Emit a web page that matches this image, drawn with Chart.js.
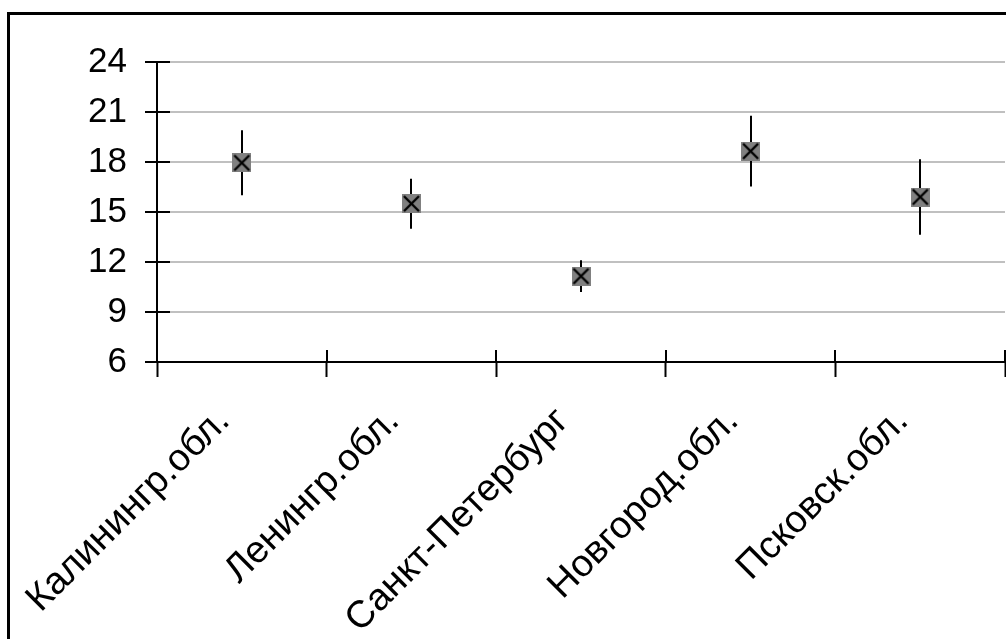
<html>
    <head>
        <style>
            body { margin: 0; background: #fff; }
            #wrap { position: relative; width: 1006px; height: 639px; }
        </style>
    </head>
    <body>
        <div id='wrap'>
            <canvas id="graph" width="1006" height="639"></canvas>
        </div>
        <script src="https://cdn.jsdelivr.net/npm/chart.js@4.4.0/dist/chart.umd.min.js"></script>
        <script>

            // Regions
            var regions = ['Калинингр.обл.', 'Ленингр.обл.', 'Санкт-Петербург', 'Новгород.обл.', 'Псковск.обл.'];
            // Mean values and error (+/-) per region
            var means = [17.95, 15.5, 11.15, 18.65, 15.9];
            var errors = [1.95, 1.5, 0.95, 2.12, 2.27];
            // Y axis ticks
            var yMin = 6;
            var yMax = 24;
            var yStep = 3;

            var FONT = "'Liberation Sans', Arial, sans-serif";

            // Grey square with black X, used as point style
            var marker = document.createElement('canvas');
            marker.width = 19;
            marker.height = 19;
            var mctx = marker.getContext('2d');
            mctx.fillStyle = '#808080';
            mctx.fillRect(0, 0, 19, 19);
            mctx.strokeStyle = '#000';
            mctx.lineWidth = 2.4;
            mctx.beginPath();
            mctx.moveTo(2, 2); mctx.lineTo(17, 17);
            mctx.moveTo(17, 2); mctx.lineTo(2, 17);
            mctx.stroke();

            // Outer frame (only left and top edges are in view)
            var framePlugin = {
                id: 'frame',
                beforeDraw: function(chart) {
                    var c = chart.ctx;
                    c.save();
                    c.fillStyle = '#fff';
                    c.fillRect(0, 0, chart.width, chart.height);
                    c.strokeStyle = '#000';
                    c.lineWidth = 3;
                    c.beginPath();
                    c.moveTo(8.5, chart.height);
                    c.lineTo(8.5, 13.5);
                    c.lineTo(chart.width, 13.5);
                    c.stroke();
                    c.restore();
                }
            };

            // Vertical error bars behind the markers
            var errorBars = {
                id: 'errorBars',
                beforeDatasetsDraw: function(chart) {
                    var c = chart.ctx;
                    var x = chart.scales.x, y = chart.scales.y;
                    c.save();
                    c.strokeStyle = '#000';
                    c.lineWidth = 2;
                    means.forEach(function(m, i) {
                        var px = Math.round(x.getPixelForValue(i));
                        c.beginPath();
                        c.moveTo(px, y.getPixelForValue(m + errors[i]));
                        c.lineTo(px, y.getPixelForValue(m - errors[i]));
                        c.stroke();
                    });
                    c.restore();
                }
            };

            // Tick marks that cross the axes (inner half)
            var crossTicks = {
                id: 'crossTicks',
                afterDraw: function(chart) {
                    var c = chart.ctx;
                    var x = chart.scales.x, y = chart.scales.y;
                    c.save();
                    c.strokeStyle = '#000';
                    c.lineWidth = 2;
                    c.beginPath();
                    y.ticks.forEach(function(t) {
                        var py = Math.round(y.getPixelForValue(t.value));
                        c.moveTo(y.right, py);
                        c.lineTo(y.right + 13, py);
                    });
                    for (var i = 0; i <= regions.length; i++) {
                        var px = Math.round(x.getPixelForValue(i - 0.5));
                        c.moveTo(px, x.top);
                        c.lineTo(px, x.top - 12);
                    }
                    c.stroke();
                    c.restore();
                }
            };

            var ctx = document.getElementById('graph').getContext('2d');
            var chart = new Chart(ctx, {
                type: 'line',
                data: {
                    labels: regions,
                    datasets: [{
                        data: means,
                        showLine: false,
                        pointStyle: marker,
                        pointRadius: 9,
                        pointHoverRadius: 9
                    }]
                },
                options: {
                    responsive: false,
                    animation: false,
                    events: [],
                    layout: { autoPadding: false, padding: { left: 0, top: 62, right: 1, bottom: 0 } },
                    plugins: {
                        legend: { display: false },
                        tooltip: { enabled: false }
                    },
                    scales: {
                        x: {
                            offset: true,
                            afterFit: function(s) {
                                s.height = 639 - 362;
                                s.paddingLeft = 0;
                                s.paddingRight = 0;
                            },
                            grid: {
                                offset: true,
                                drawOnChartArea: false,
                                tickLength: 15,
                                tickColor: '#000',
                                tickWidth: 2
                            },
                            border: { color: '#000', width: 2 },
                            ticks: {
                                autoSkip: false,
                                minRotation: 45,
                                maxRotation: 45,
                                padding: 22,
                                labelOffset: -18,
                                color: '#000',
                                font: { family: FONT, size: 38 }
                            }
                        },
                        y: {
                            min: yMin,
                            max: yMax,
                            afterFit: function(s) {
                                s.width = 157;
                                s.paddingTop = 0;
                                s.paddingBottom = 0;
                            },
                            grid: {
                                color: function(c) { return c.tick && c.tick.value === yMin ? '#000' : '#c0c0c0'; },
                                lineWidth: 2,
                                tickLength: 12,
                                tickColor: '#000',
                                tickWidth: 2
                            },
                            border: { color: '#000', width: 2 },
                            ticks: {
                                stepSize: yStep,
                                padding: 18,
                                color: '#000',
                                font: { family: FONT, size: 35 }
                            }
                        }
                    }
                },
                plugins: [framePlugin, errorBars, crossTicks]
            });
        </script>
    </body>
</html>
